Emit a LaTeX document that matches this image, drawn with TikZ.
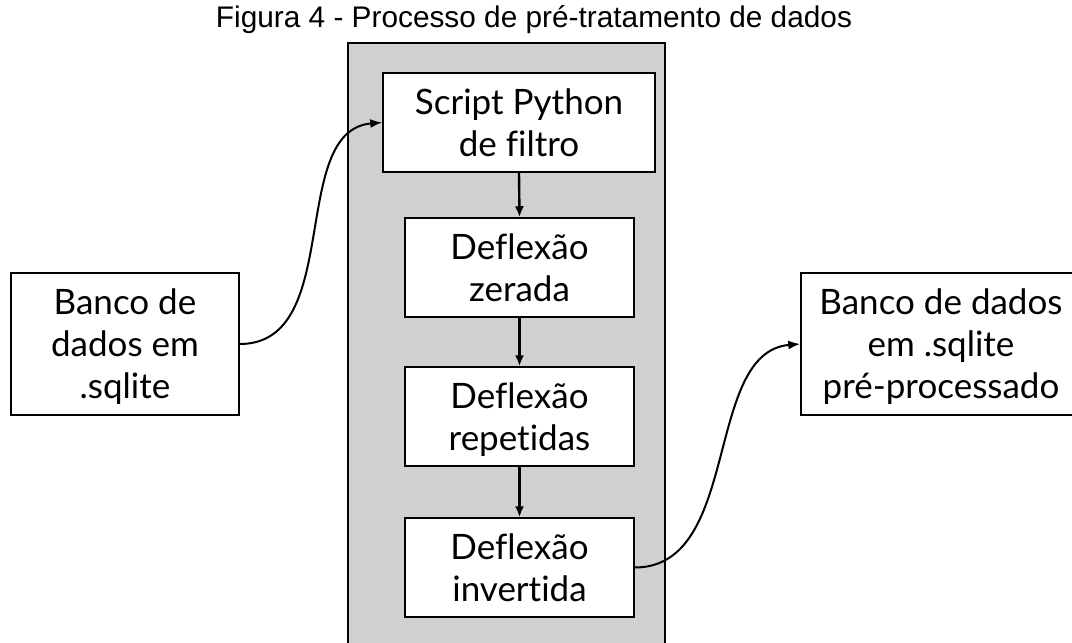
\documentclass[tikz,border=0pt]{standalone}
\usepackage{fontspec}
\setmainfont{Liberation Sans}
\newfontfamily\boxfont[Ligatures=NoCommon]{Lato}
\usetikzlibrary{arrows.meta}
\tikzset{
  procbox/.style={draw=black, line width=1.5pt, fill=white, align=center, inner sep=0pt,
    font=\boxfont\fontsize{35}{42}\selectfont, text depth=0pt},
  flow/.style={line width=2.4pt, -{Latex[length=11pt,width=9pt]}},
  curve/.style={line width=2pt, -{Latex[length=12pt,width=9pt]}},
}
\begin{document}
\begin{tikzpicture}[x=1pt,y=-1pt]
\useasboundingbox (0,0) rectangle (1072,643);
\fill[white] (0,0) rectangle (1072,643);
\node[font=\fontsize{29.8}{34}\selectfont] (title) at (534,20) {Figura 4 - Processo de pré-tratamento de dados};
\draw[line width=2pt, fill={rgb,255:red,208;green,208;blue,208}] (348,43) rectangle (665,660);
\node[procbox, minimum width=272pt, minimum height=99pt] (b1) at (519,122.5) {Script Python\\de filtro};
\node[procbox, minimum width=229pt, minimum height=99pt] (b2) at (519.5,267.5) {Deflexão\\zerada};
\node[procbox, minimum width=229pt, minimum height=99pt] (b3) at (519.5,416.5) {Deflexão\\repetidas};
\node[procbox, minimum width=229pt, minimum height=99pt] (b4) at (519.5,567.5) {Deflexão\\invertida};
\node[procbox, minimum width=228pt, minimum height=142pt] (in) at (125,344) {Banco de\\dados em\\.sqlite};
\node[procbox, minimum width=280pt, minimum height=142pt] (out) at (941,344) {Banco de dados\\em .sqlite\\pré-processado};
\draw[flow] (b1.south) -- (b2.north);
\draw[flow] (b2.south) -- (b3.north);
\draw[flow] (b3.south) -- (b4.north);
\draw[curve] (in.east) .. controls +(105,0) and +(-95,8) .. (b1.west);
\draw[curve] (b4.east) .. controls +(107,0) and +(-97,8) .. (out.west);
\end{tikzpicture}
\end{document}
